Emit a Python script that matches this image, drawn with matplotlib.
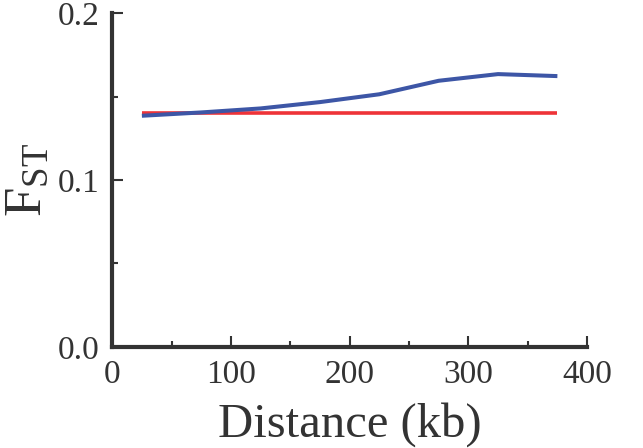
import numpy as np
import matplotlib.pyplot as plt
from matplotlib.ticker import MultipleLocator

plt.rcParams['font.family'] = 'Liberation Serif'
plt.rcParams['mathtext.fontset'] = 'custom'
plt.rcParams['mathtext.rm'] = 'Liberation Serif'
plt.rcParams['mathtext.it'] = 'Liberation Serif:italic'

# data
distance = [25, 75, 125, 175, 225, 275, 325, 375]
fst_observed = [0.1386, 0.1406, 0.1430, 0.1468, 0.1515, 0.1596, 0.1636, 0.1624]
fst_expected = [0.140, 0.140, 0.140, 0.140, 0.140, 0.140, 0.140, 0.140]

fig = plt.figure(figsize=(6.43, 4.48), dpi=100)
ax = fig.add_axes([0.1745, 0.226, 0.7385, 0.744])

ax.plot(distance, fst_expected, color='#ee3338', lw=2.6, solid_capstyle='butt')
ax.plot(distance, fst_observed, color='#3d56a6', lw=2.9, solid_capstyle='butt')

ax.set_xlim(0, 400)
ax.set_ylim(0, 0.2)
ax.xaxis.set_major_locator(MultipleLocator(100))
ax.xaxis.set_minor_locator(MultipleLocator(50))
ax.yaxis.set_major_locator(MultipleLocator(0.1))
ax.yaxis.set_minor_locator(MultipleLocator(0.05))
ax.yaxis.set_major_formatter(plt.FormatStrFormatter('%.1f'))

for s in ['top', 'right']:
    ax.spines[s].set_visible(False)
for s in ['left', 'bottom']:
    ax.spines[s].set_linewidth(3)
    ax.spines[s].set_color('#333333')

ax.tick_params(which='major', direction='in', length=8, width=1.5,
               color='#333333', labelsize=24, labelcolor='#333333', pad=9)
ax.tick_params(which='minor', direction='in', length=4, width=1.5, color='#333333')

ax.set_xlabel('Distance (kb)', fontsize=35, color='#333333', labelpad=9)
ax.set_ylabel(r'F$_{\mathrm{ST}}$', fontsize=38, color='#333333')
ax.yaxis.set_label_coords(-0.128, 0.5)

fig.savefig('out.png', dpi=100)
